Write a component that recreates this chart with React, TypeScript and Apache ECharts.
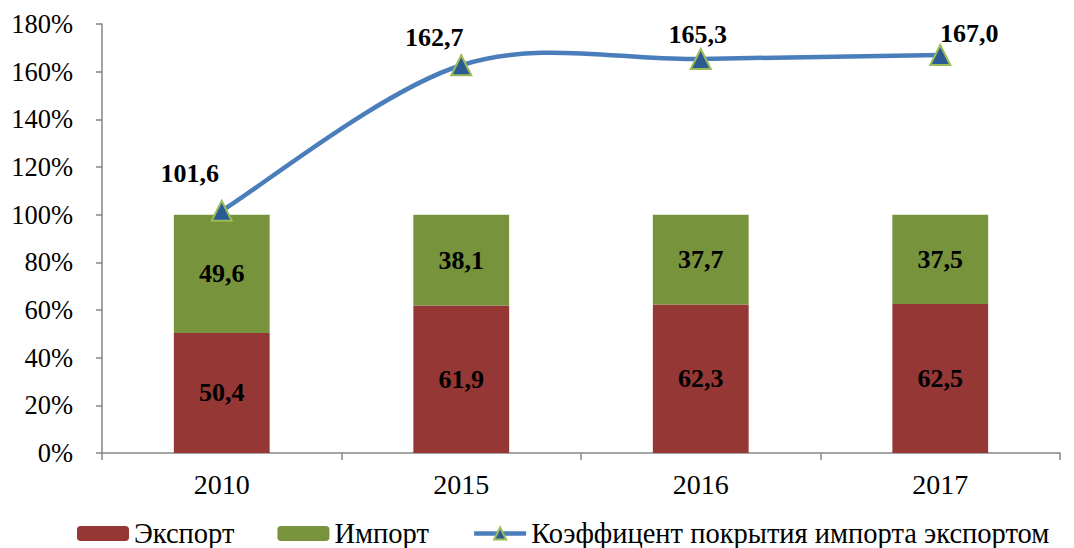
import React, { useEffect, useRef } from "react";
import * as echarts from "echarts";

const categories = ["2010", "2015", "2016", "2017"];
const exportShare = [50.4, 61.9, 62.3, 62.5];
const importShare = [49.6, 38.1, 37.7, 37.5];
const coverage = [101.6, 162.7, 165.3, 167.0];
const coverageLabelOffsets = [[-32, -37], [-27, -28], [-3, -25], [29, -21]];
const seriesNames = ["Экспорт", "Импорт", "Коэффицент покрытия импорта экспортом"];

const fmt = (v: number) => v.toFixed(1).replace(".", ",");
const FONT = "Liberation Serif";
const LINE_COLOR = "#4a7ebb";

export default function App() {
  const ref = useRef<HTMLDivElement>(null);
  useEffect(() => {
    if (!ref.current) return;
    const chart = echarts.init(ref.current, null, { renderer: "svg" });
    const barLabel = {
      show: true,
      position: "inside",
      color: "#000",
      fontFamily: FONT,
      fontWeight: "bold",
      fontSize: 26,
      formatter: (p: any) => fmt(p.value),
    };
    chart.setOption({
      animation: false,
      textStyle: { fontFamily: FONT },
      grid: { left: 102, right: 14, top: 24, bottom: 95, containLabel: false },
      legend: {
        left: 77,
        top: 519,
        padding: 0,
        itemWidth: 52,
        itemHeight: 15,
        itemGap: 43,
        textStyle: { fontFamily: FONT, fontSize: 28.5, color: "#000" },
        data: [
          seriesNames[0],
          seriesNames[1],
          { name: seriesNames[2], lineStyle: { color: LINE_COLOR, width: 4.5, opacity: 1 } },
        ],
      },
      xAxis: {
        type: "category",
        data: categories,
        axisLine: { lineStyle: { color: "#868686", width: 1.5 } },
        axisTick: { show: true, length: 7, lineStyle: { color: "#868686", width: 1.5 } },
        axisLabel: { fontFamily: FONT, fontSize: 28, color: "#000", margin: 17 },
      },
      yAxis: {
        type: "value",
        min: 0,
        max: 180,
        interval: 20,
        axisLine: { show: true, lineStyle: { color: "#868686", width: 1.5 } },
        axisTick: { show: true, length: 6, lineStyle: { color: "#868686", width: 1.5 } },
        splitLine: { show: false },
        axisLabel: {
          fontFamily: FONT,
          fontSize: 26.5,
          color: "#000",
          margin: 29,
          formatter: "{value}%",
        },
      },
      series: [
        {
          name: seriesNames[0],
          type: "bar",
          stack: "s",
          barWidth: "40%",
          data: exportShare,
          itemStyle: { color: "#953735" },
          label: barLabel,
        },
        {
          name: seriesNames[1],
          type: "bar",
          stack: "s",
          barWidth: "40%",
          data: importShare,
          itemStyle: { color: "#77933c" },
          label: barLabel,
        },
        {
          type: "custom",
          name: "curve",
          silent: true,
          z: 4,
          data: coverage.map((v, i) => [i, v]),
          encode: { x: 0, y: 1 },
          renderItem: (params: any, api: any) => {
            const i = params.dataIndex;
            const n = coverage.length;
            if (i >= n - 1) return null;
            const pt = (k: number) => {
              const kk = Math.max(0, Math.min(n - 1, k));
              return api.coord([kk, coverage[kk]]);
            };
            const p0 = pt(i - 1);
            const p1 = pt(i);
            const p2 = pt(i + 1);
            const p3 = pt(i + 2);
            const t = 6;
            return {
              type: "bezierCurve",
              shape: {
                x1: p1[0],
                y1: p1[1],
                x2: p2[0],
                y2: p2[1],
                cpx1: p1[0] + (p2[0] - p0[0]) / t,
                cpy1: p1[1] + (p2[1] - p0[1]) / t,
                cpx2: p2[0] - (p3[0] - p1[0]) / t,
                cpy2: p2[1] - (p3[1] - p1[1]) / t,
              },
              style: { stroke: LINE_COLOR, lineWidth: 4.5, fill: null },
            };
          },
        },
        {
          name: seriesNames[2],
          type: "line",
          symbol: "triangle",
          symbolSize: 20,
          data: coverage.map((v, i) => ({
            value: v,
            label: { offset: coverageLabelOffsets[i] },
          })),
          lineStyle: { color: LINE_COLOR, width: 4.5, opacity: 0 },
          itemStyle: { color: "#2c5b94", borderColor: "#9bbb59", borderWidth: 2 },
          label: {
            show: true,
            position: "inside",
            color: "#000",
            fontFamily: FONT,
            fontWeight: "bold",
            fontSize: 26,
            formatter: (p: any) => fmt(p.value),
          },
          z: 5,
        },
      ],
    });
    return () => chart.dispose();
  }, []);
  return <div ref={ref} style={{ width: 1074, height: 548, position: "absolute", left: 0, top: 0 }} />;
}
